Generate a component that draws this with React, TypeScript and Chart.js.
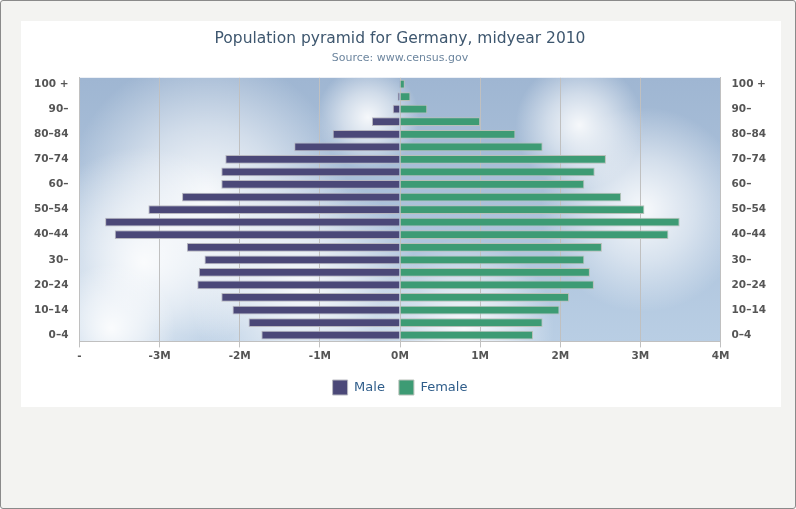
import { useEffect, useRef } from 'react'
import { Chart, registerables } from 'chart.js'

Chart.register(...registerables)

const AGES = ['0–4', '5–9', '10–14', '15–19', '20–24', '25–29', '30–34', '35–39', '40–44', '45–49', '50–54',
  '55–59', '60–64', '65–69', '70–74', '75–79', '80–84', '85–89', '90–94', '95–99', '100 +']
const TICKS = ['0–4', '', '10–14', '', '20–24', '', '30–', '', '40–44', '', '50–54',
  '', '60–', '', '70–74', '', '80–84', '', '90–', '', '100 +']
const MALE = [-1.73, -1.89, -2.09, -2.23, -2.53, -2.51, -2.44, -2.66, -3.56, -3.68, -3.14,
  -2.72, -2.23, -2.23, -2.18, -1.32, -0.84, -0.35, -0.09, -0.03, -0.01]
const FEMALE = [1.66, 1.78, 1.99, 2.11, 2.42, 2.37, 2.3, 2.52, 3.35, 3.49, 3.05,
  2.76, 2.3, 2.43, 2.57, 1.78, 1.44, 1.0, 0.34, 0.13, 0.06]

const FONT = 'DejaVu Sans, Verdana, sans-serif'

const sky = {
  id: 'sky',
  beforeDraw(c: Chart) {
    const { ctx, chartArea: a } = c
    if (!a) return
    ctx.save()
    const g = ctx.createLinearGradient(a.left, a.top, a.left, a.bottom)
    g.addColorStop(0, '#9fb6d2')
    g.addColorStop(1, '#b9cee4')
    ctx.fillStyle = g
    ctx.fillRect(a.left, a.top, a.right - a.left, a.bottom - a.top)
    const w = a.right - a.left
    const h = a.bottom - a.top
    const clouds = [[0.2, 0.45, 0.22], [0.1, 0.7, 0.18], [0.35, 0.8, 0.18], [0.88, 0.5, 0.16], [0.78, 0.18, 0.1], [0.05, 0.95, 0.1], [0.6, 0.95, 0.14], [0.45, 0.15, 0.08]]
    clouds.forEach(([x, y, r]) => {
      const rg = ctx.createRadialGradient(a.left + x * w, a.top + y * h, 0, a.left + x * w, a.top + y * h, r * w)
      rg.addColorStop(0, 'rgba(255,255,255,0.9)')
      rg.addColorStop(0.5, 'rgba(255,255,255,0.5)')
      rg.addColorStop(1, 'rgba(255,255,255,0)')
      ctx.fillStyle = rg
      ctx.fillRect(a.left, a.top, w, h)
    })
    ctx.restore()
  },
}

export default function App() {
  const ref = useRef<HTMLCanvasElement>(null)

  useEffect(() => {
    if (!ref.current) return
    const tickFont = { family: FONT, size: 10.5, weight: 'bold' as const }
    const chart = new Chart(ref.current, {
      type: 'bar',
      data: {
        labels: AGES,
        datasets: [
          { label: 'Male', data: MALE, backgroundColor: '#4b4878', borderColor: '#b8b8c0', borderWidth: 1, barPercentage: 0.82, categoryPercentage: 0.85 },
          { label: 'Female', data: FEMALE, backgroundColor: '#3d9b74', borderColor: '#b8c0b8', borderWidth: 1, barPercentage: 0.82, categoryPercentage: 0.85 },
        ],
      },
      plugins: [sky],
      options: {
        indexAxis: 'y',
        animation: false,
        responsive: true,
        maintainAspectRatio: false,
        layout: { padding: { left: 10, right: 12, top: 0, bottom: 2 } },
        plugins: {
          title: { display: true, text: 'Population pyramid for Germany, midyear 2010', color: '#3e576f', font: { family: FONT, size: 15.5, weight: 'normal' }, padding: { top: 9, bottom: 3 } },
          subtitle: { display: true, text: 'Source: www.census.gov', color: '#6d869f', font: { family: FONT, size: 11 }, padding: { bottom: 13 } },
          legend: {
            position: 'bottom',
            labels: { color: '#2f5d8a', font: { family: FONT, size: 13 }, boxWidth: 15, boxHeight: 15, padding: 14 },
          },
          tooltip: { enabled: false },
        },
        scales: {
          x: {
            stacked: true,
            min: -4, max: 4,
            ticks: { stepSize: 1, color: '#555', font: tickFont, callback: (v) => (Number(v) === -4 ? '-' : `${v}M`) },
            grid: { color: '#c0c0c0', drawTicks: true, tickLength: 6 },
            border: { color: '#c0c0c0' },
          },
          y: {
            stacked: true,
            reverse: true,
            ticks: { autoSkip: false, color: '#555', font: tickFont, callback: (_v, i) => TICKS[i] },
            grid: { display: false },
            border: { color: '#c0c0c0' },
          },
          y2: {
            type: 'category',
            labels: AGES,
            position: 'right',
            reverse: true,
            ticks: { autoSkip: false, color: '#555', font: tickFont, callback: (_v, i) => TICKS[i] },
            grid: { display: false },
            border: { color: '#c0c0c0' },
          },
        },
      },
    })
    return () => chart.destroy()
  }, [])

  return (
    <div style={{ position: 'fixed', inset: 0, background: '#f3f3f1', border: '1px solid #8a8a8a', borderRadius: 3 }}>
      <div style={{ position: 'absolute', left: 20, top: 20, width: 760, height: 386, background: '#fff' }}>
        <canvas ref={ref} />
      </div>
    </div>
  )
}
